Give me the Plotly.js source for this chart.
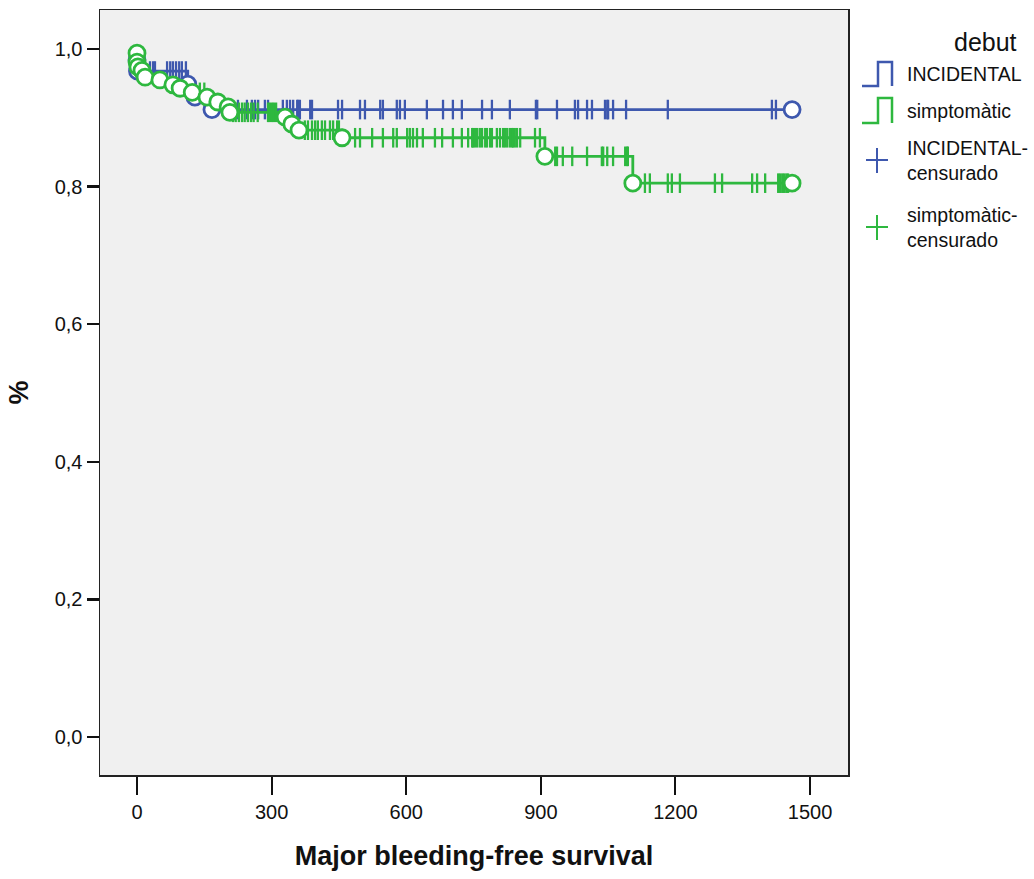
<!DOCTYPE html>
<html>
<head>
<meta charset="utf-8">
<script src="https://cdn.plot.ly/plotly-3.0.1.min.js"></script>
<style>
html, body { margin: 0; padding: 0; background: #ffffff; }
#chart { width: 1034px; height: 879px; }
</style>
</head>
<body>
<div id="chart"></div>
<script>
// ---------------- DATA ----------------
const groupNames = ["INCIDENTAL", "simptomàtic"];
const censorNames = ["INCIDENTAL-<br>censurado", "simptomàtic-<br>censurado"];
const legendTitle = "debut";
const xTitle = "Major bleeding-free survival";
const yTitle = "%";
const xTickVals = [0, 300, 600, 900, 1200, 1500];
const yTickVals = [0.0, 0.2, 0.4, 0.6, 0.8, 1.0];

// INCIDENTAL: event times and survival after each event
const incEventT = [0, 1, 113, 129, 167];
const incEventS = [0.984, 0.968, 0.949, 0.930, 0.912];
const incEndT = 1460;
const incCensorT = [29, 36, 40, 67, 74, 80, 87, 94, 100, 109,
  225, 245, 256, 263, 270, 285, 292, 325, 334, 341, 348, 357, 359, 363, 386, 390,
  448, 457, 497, 508, 542, 548, 579, 586, 597, 646, 682, 704, 724, 769, 791, 831,
  889, 892, 936, 976, 983, 1003, 1014, 1043, 1048, 1050, 1061, 1090, 1183, 1415, 1424];

// simptomàtic: event times and survival after each event
const symEventT = [0, 0, 2, 11, 18, 51, 80, 96, 123, 156, 180, 203, 207, 330, 345, 361, 457, 909, 1105];
const symEventS = [0.994, 0.981, 0.974, 0.969, 0.959, 0.955, 0.948, 0.943, 0.937, 0.930, 0.923, 0.916, 0.908, 0.901, 0.891, 0.882, 0.871, 0.844, 0.805];
const symEndT = 1460;
const symCensorT = [140, 150,
  214, 220, 227, 234, 240, 247, 254, 260, 269, 292, 296, 301, 305, 310,
  374, 381, 390, 397, 403, 412, 419, 430, 437, 446, 450,
  486, 497, 524, 548, 571, 579, 602, 608, 615, 624, 637, 664, 680, 704, 724, 738, 747, 749,
  753, 758, 764, 769, 776, 780, 787, 791, 802, 809, 816, 820, 825, 831, 836, 838, 842, 847, 854, 887, 898,
  932, 936, 949, 970, 1003, 1036, 1039, 1048, 1061, 1088, 1092, 1094,
  1132, 1143, 1183, 1192, 1210, 1288, 1304, 1371, 1382, 1400, 1429, 1433, 1438, 1442, 1447, 1451];

// ---------------- STYLE ----------------
const BLUE = "#3e58ae";
const GREEN = "#2eb83f";
const FONT = "'Liberation Sans', Arial, sans-serif";

function survAt(t, ET, ES) {
  let s = 1.0;
  for (let i = 0; i < ET.length; i++) { if (ET[i] <= t) s = ES[i]; }
  return s;
}

function groupTraces(name, color, ET, ES, endT, CT) {
  const lx = [0].concat(ET, [endT]);
  const ly = [1.0].concat(ES, [ES[ES.length - 1]]);
  const line = {
    x: lx, y: ly, type: "scatter", mode: "lines", name: name,
    line: { color: color, width: 2.8, shape: "hv" }, showlegend: false, hoverinfo: "skip"
  };
  const cens = {
    x: CT, y: CT.map(t => survAt(t, ET, ES)), type: "scatter", mode: "markers",
    name: name + "-censurado", showlegend: false, hoverinfo: "skip",
    marker: { symbol: "line-ns-open", size: 14, color: color, line: { color: color, width: 2.3 } }
  };
  const circ = {
    x: ET.concat([endT]), y: ES.concat([ES[ES.length - 1]]), type: "scatter", mode: "markers",
    name: name, showlegend: false, hoverinfo: "skip",
    marker: { symbol: "circle", size: 16, color: "#ffffff", line: { color: color, width: 2.8 } }
  };
  return [line, cens, circ];
}

const traces = []
  .concat(groupTraces(groupNames[0], BLUE, incEventT, incEventS, incEndT, incCensorT))
  .concat(groupTraces(groupNames[1], GREEN, symEventT, symEventS, symEndT, symCensorT));

// ---------------- LAYOUT ----------------
const W = 1034, H = 879;
const M = { l: 100, r: 186, t: 10, b: 104 };
const PW = W - M.l - M.r, PH = H - M.t - M.b;
const px = x => (x - M.l) / PW;
const py = y => (H - M.b - y) / PH;

const shapes = [
  { type: "path", xref: "paper", yref: "paper",
    path: `M ${px(862)} ${py(86)} L ${px(878)} ${py(86)} L ${px(878)} ${py(62)} L ${px(892)} ${py(62)} L ${px(892)} ${py(86)}`,
    line: { color: BLUE, width: 2.5 } },
  { type: "path", xref: "paper", yref: "paper",
    path: `M ${px(862)} ${py(123)} L ${px(878)} ${py(123)} L ${px(878)} ${py(98)} L ${px(892)} ${py(98)} L ${px(892)} ${py(123)}`,
    line: { color: GREEN, width: 2.5 } },
  { type: "line", xref: "paper", yref: "paper", x0: px(866), x1: px(888), y0: py(160), y1: py(160), line: { color: BLUE, width: 2 } },
  { type: "line", xref: "paper", yref: "paper", x0: px(877), x1: px(877), y0: py(148), y1: py(173), line: { color: BLUE, width: 2 } },
  { type: "line", xref: "paper", yref: "paper", x0: px(866), x1: px(888), y0: py(227), y1: py(227), line: { color: GREEN, width: 2 } },
  { type: "line", xref: "paper", yref: "paper", x0: px(877), x1: px(877), y0: py(215), y1: py(240), line: { color: GREEN, width: 2 } }
];

const legFont = { family: FONT, size: 19.5, color: "#111111" };
const annotations = [
  { text: legendTitle, xref: "paper", yref: "paper", x: px(1019), y: py(42), xanchor: "right", yanchor: "middle",
    showarrow: false, font: { family: FONT, size: 25, color: "#111111" } },
  { text: groupNames[0], xref: "paper", yref: "paper", x: px(905), y: py(74), xanchor: "left", yanchor: "middle", showarrow: false, font: legFont },
  { text: groupNames[1], xref: "paper", yref: "paper", x: px(905), y: py(111), xanchor: "left", yanchor: "middle", showarrow: false, font: legFont },
  { text: censorNames[0], xref: "paper", yref: "paper", x: px(905), y: py(161), xanchor: "left", yanchor: "middle", showarrow: false, align: "left", font: legFont },
  { text: censorNames[1], xref: "paper", yref: "paper", x: px(905), y: py(227), xanchor: "left", yanchor: "middle", showarrow: false, align: "left", font: legFont }
];

const layout = {
  width: W, height: H,
  margin: M,
  paper_bgcolor: "#ffffff",
  plot_bgcolor: "#f0f0f0",
  separators: ",.",
  showlegend: false,
  font: { family: FONT, color: "#111111" },
  xaxis: {
    range: [-82.5, 1584.6], tickvals: xTickVals, ticktext: xTickVals.map(String),
    showgrid: false, zeroline: false,
    showline: true, linecolor: "#222222", linewidth: 1.5, mirror: true,
    ticks: "outside", ticklen: 18, tickwidth: 2, tickcolor: "#111111",
    tickfont: { family: FONT, size: 20, color: "#111111" },
    title: { text: xTitle, standoff: 24, font: { family: FONT, size: 27, color: "#111111", weight: "bold" } }
  },
  yaxis: {
    range: [-0.0552, 1.0567], tickvals: yTickVals, tickformat: ".1f",
    showgrid: false, zeroline: false,
    showline: true, linecolor: "#222222", linewidth: 1.5, mirror: true,
    ticks: "outside", ticklen: 12, tickwidth: 2.5, tickcolor: "#111111",
    tickfont: { family: FONT, size: 20, color: "#111111" },
    title: { text: yTitle, standoff: 18, font: { family: FONT, size: 27, color: "#111111", weight: "bold" } }
  },
  shapes: shapes,
  annotations: annotations
};

Plotly.newPlot("chart", traces, layout, { displayModeBar: false, staticPlot: true });
</script>
</body>
</html>
